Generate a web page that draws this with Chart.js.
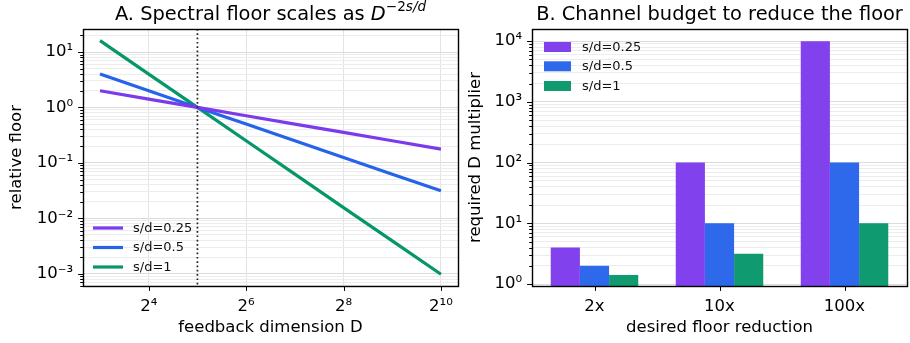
<!DOCTYPE html>
<html><head><meta charset="utf-8">
<script src="https://cdn.jsdelivr.net/npm/chart.js@4.4.0/dist/chart.umd.min.js"></script>
<style>
html,body{margin:0;padding:0;background:#fff;}
#wrap{position:relative;width:910px;height:343px;overflow:hidden;background:#fff;}
.panel{position:absolute;top:0;height:343px;}
</style></head><body>
<div id="wrap">
<div class="panel" style="left:0;width:460px"><canvas id="cA" width="460" height="343"></canvas></div>
<div class="panel" style="left:460px;width:450px"><canvas id="cB" width="450" height="343"></canvas></div>
</div>
<script>
const FONT = "'DejaVu Sans', sans-serif";
const seriesLabels = ['s/d=0.25', 's/d=0.5', 's/d=1'];
const seriesColors = ['#7c3aed', '#2563eb', '#059669'];

// Panel A data
const dimD = [8, 16, 32, 64, 128, 256, 512, 1024];
const floorS025 = [2, 1.414, 1, 0.707, 0.5, 0.354, 0.25, 0.177];
const floorS05 = [4, 2, 1, 0.5, 0.25, 0.125, 0.0625, 0.03125];
const floorS1 = [16, 4, 1, 0.25, 0.0625, 0.0156, 0.0039, 0.000977];
const referenceD = 32;
const aXTicks = [16, 64, 256, 1024];
const aXTickLabels = ['2\u2074', '2\u2076', '2\u2078', '2\u00b9\u2070'];
const aYTicks = [1e-3, 1e-2, 1e-1, 1, 10];
const aYTickLabels = ['10\u207b\u00b3', '10\u207b\u00b2', '10\u207b\u00b9', '10\u2070', '10\u00b9'];
const aXRange = [6.28, 1305];
const aYRange = [6.0e-4, 26];

// Panel B data
const reductions = ['2x', '10x', '100x'];
const budgetS025 = [4, 100, 10000];
const budgetS05 = [2, 10, 100];
const budgetS1 = [1.414, 3.162, 10];
const bYTicks = [1, 10, 100, 1000, 10000];
const bYTickLabels = ['10\u2070', '10\u00b9', '10\u00b2', '10\u00b3', '10\u2074'];
const bYRange = [0.93, 15850];

function isMajor(v, majors) { return majors.some(m => Math.abs(v - m) / m < 1e-6); }
function logTickValues(min, max) {
  const out = [];
  for (let e = Math.floor(Math.log10(min)); e <= Math.ceil(Math.log10(max)); e++) {
    for (let k = 1; k <= 9; k++) {
      const v = k * Math.pow(10, e);
      if (v >= min && v <= max) out.push(v);
    }
  }
  return out;
}
function labelFor(v, vals, labels) {
  const i = vals.findIndex(m => Math.abs(v - m) / m < 1e-6);
  return i >= 0 ? labels[i] : '';
}
function noPad(s) { s.paddingLeft = 0; s.paddingRight = 0; s.paddingTop = 0; s.paddingBottom = 0; }

const framePlugin = {
  id: 'frame',
  afterDatasetsDraw(chart, args, opts) {
    const { ctx, chartArea: a } = chart;
    ctx.save();
    if (opts.refX !== undefined) {
      const px = chart.scales.x.getPixelForValue(opts.refX);
      ctx.strokeStyle = '#222';
      ctx.lineWidth = 1.7;
      ctx.setLineDash([1.7, 2.6]);
      ctx.beginPath(); ctx.moveTo(px, a.top); ctx.lineTo(px, a.bottom); ctx.stroke();
      ctx.setLineDash([]);
    }
    ctx.strokeStyle = '#000';
    ctx.lineWidth = 1;
    const ys = chart.scales.y;
    ys.ticks.forEach(t => {
      const p = Math.round(ys.getPixelForValue(t.value)) + 0.5;
      const len = isMajor(t.value, opts.yMajors) ? 4.9 : 2.8;
      ctx.beginPath(); ctx.moveTo(a.left, p); ctx.lineTo(a.left - len, p); ctx.stroke();
    });
    const xs = chart.scales.x;
    xs.ticks.forEach((t, i) => {
      const p = Math.round(opts.category ? xs.getPixelForTick(i) : xs.getPixelForValue(t.value)) + 0.5;
      ctx.beginPath(); ctx.moveTo(p, a.bottom); ctx.lineTo(p, a.bottom + 4.9); ctx.stroke();
    });
    ctx.strokeStyle = '#000';
    ctx.lineWidth = 1.4;
    ctx.strokeRect(Math.round(a.left) + 0.5, Math.round(a.top) + 0.5,
      Math.round(a.right - a.left), Math.round(a.bottom - a.top));
    // legend
    const lg = opts.legend;
    ctx.font = '13px ' + FONT;
    ctx.textBaseline = 'middle';
    ctx.textAlign = 'left';
    chart.data.datasets.forEach((ds, i) => {
      const y = (lg.fromBottom ? a.bottom : a.top) + lg.rows[i];
      const x0 = a.left + lg.x0, x1 = a.left + lg.x1;
      if (lg.type === 'line') {
        ctx.strokeStyle = ds.borderColor; ctx.lineWidth = 3.2;
        ctx.beginPath(); ctx.moveTo(x0, y); ctx.lineTo(x1, y); ctx.stroke();
      } else {
        ctx.fillStyle = ds.backgroundColor;
        ctx.fillRect(x0, y - 5, x1 - x0, 10);
      }
      ctx.fillStyle = '#111';
      ctx.fillText(ds.label, a.left + lg.tx, y + 0.5);
    });
    // title
    const cx = (a.left + a.right) / 2;
    const by = opts.titleBaseline;
    const parts = opts.title;
    let total = 0;
    parts.forEach(p => { ctx.font = p.font; total += ctx.measureText(p.text).width; });
    let x = cx - total / 2;
    ctx.textBaseline = 'alphabetic';
    ctx.fillStyle = '#000';
    parts.forEach(p => {
      ctx.font = p.font;
      ctx.fillText(p.text, x, by - (p.rise || 0));
      x += ctx.measureText(p.text).width;
    });
    ctx.restore();
  }
};

const tickFont = { family: FONT, size: 16.5 };
const titleFont = { family: FONT, size: 16.5 };

new Chart(document.getElementById('cA'), {
  type: 'line',
  data: {
    datasets: [floorS025, floorS05, floorS1].map((arr, i) => ({
      label: seriesLabels[i],
      data: dimD.map((d, j) => ({ x: d, y: arr[j] })),
      borderColor: seriesColors[i],
      borderWidth: 3.2,
      pointRadius: 0,
      tension: 0,
      fill: false
    }))
  },
  options: {
    responsive: false, animation: false, devicePixelRatio: 1,
    layout: { padding: { top: 29, right: 2, left: 0, bottom: 0 } },
    plugins: {
      legend: { display: false }, tooltip: { enabled: false },
      frame: {
        refX: referenceD, yMajors: aYTicks,
        legend: { type: 'line', fromBottom: true, rows: [-58, -38.5, -19], x0: 10, x1: 40, tx: 50 },
        titleBaseline: 19.5,
        title: [
          { text: 'A. Spectral floor scales as ', font: '19.4px ' + FONT },
          { text: 'D', font: 'italic 19.4px ' + FONT },
          { text: '\u22122', font: '13.6px ' + FONT, rise: 8.5 },
          { text: 's/d', font: 'italic 13.6px ' + FONT, rise: 8.5 }
        ]
      }
    },
    scales: {
      x: {
        type: 'logarithmic', min: aXRange[0], max: aXRange[1],
        afterBuildTicks: s => { s.ticks = aXTicks.map(v => ({ value: v })); },
        afterFit: s => { s.height = 57; noPad(s); },
        border: { display: false },
        grid: { drawTicks: false, color: '#e3e3e3', lineWidth: 1 },
        ticks: { autoSkip: false, maxRotation: 0, padding: 11, color: '#000', font: tickFont,
          callback: v => labelFor(v, aXTicks, aXTickLabels) },
        title: { display: true, text: 'feedback dimension D', color: '#000', font: titleFont, padding: { top: 0, bottom: 5 } }
      },
      y: {
        type: 'logarithmic', min: aYRange[0], max: aYRange[1],
        afterBuildTicks: s => { s.ticks = logTickValues(aYRange[0], aYRange[1]).map(v => ({ value: v })); },
        afterFit: s => { s.width = 83; noPad(s); },
        border: { display: false },
        grid: { drawTicks: false, lineWidth: 1,
          color: c => (c.tick && isMajor(c.tick.value, aYTicks)) ? '#dcdcdc' : '#ececec' },
        ticks: { autoSkip: false, padding: 10, color: '#000', font: tickFont,
          callback: v => labelFor(v, aYTicks, aYTickLabels) },
        title: { display: true, text: 'relative floor', color: '#000', font: titleFont, padding: { top: 7, bottom: 0 } }
      }
    }
  },
  plugins: [framePlugin]
});

new Chart(document.getElementById('cB'), {
  type: 'bar',
  data: {
    labels: reductions,
    datasets: [budgetS025, budgetS05, budgetS1].map((arr, i) => ({
      label: seriesLabels[i],
      data: arr,
      backgroundColor: seriesColors[i] + 'f5',
      borderWidth: 0,
      categoryPercentage: 0.7,
      barPercentage: 1.0
    }))
  },
  options: {
    responsive: false, animation: false, devicePixelRatio: 1,
    layout: { padding: { top: 29, right: 3, left: 0, bottom: 0 } },
    plugins: {
      legend: { display: false }, tooltip: { enabled: false },
      frame: {
        category: true, yMajors: bYTicks,
        legend: { type: 'box', fromBottom: false, rows: [18, 37.3, 57], x0: 12, x1: 39, tx: 50 },
        titleBaseline: 19.5,
        title: [{ text: 'B. Channel budget to reduce the floor', font: '19.4px ' + FONT }]
      }
    },
    scales: {
      x: {
        type: 'category', offset: true,
        afterFit: s => { s.height = 57; noPad(s); },
        border: { display: false },
        grid: { display: false, drawTicks: false },
        ticks: { autoSkip: false, maxRotation: 0, padding: 11, color: '#000', font: tickFont },
        title: { display: true, text: 'desired floor reduction', color: '#000', font: titleFont, padding: { top: 0, bottom: 5 } }
      },
      y: {
        type: 'logarithmic', min: bYRange[0], max: bYRange[1],
        afterBuildTicks: s => { s.ticks = logTickValues(bYRange[0], bYRange[1]).map(v => ({ value: v })); },
        afterFit: s => { s.width = 72; noPad(s); },
        border: { display: false },
        grid: { drawTicks: false, lineWidth: 1,
          color: c => (c.tick && isMajor(c.tick.value, bYTicks)) ? '#dcdcdc' : '#ececec' },
        ticks: { autoSkip: false, padding: 10, color: '#000', font: tickFont,
          callback: v => labelFor(v, bYTicks, bYTickLabels) },
        title: { display: true, text: 'required D multiplier', color: '#000', font: titleFont, padding: { top: 6, bottom: 0 } }
      }
    }
  },
  plugins: [framePlugin]
});
</script>
</body></html>
